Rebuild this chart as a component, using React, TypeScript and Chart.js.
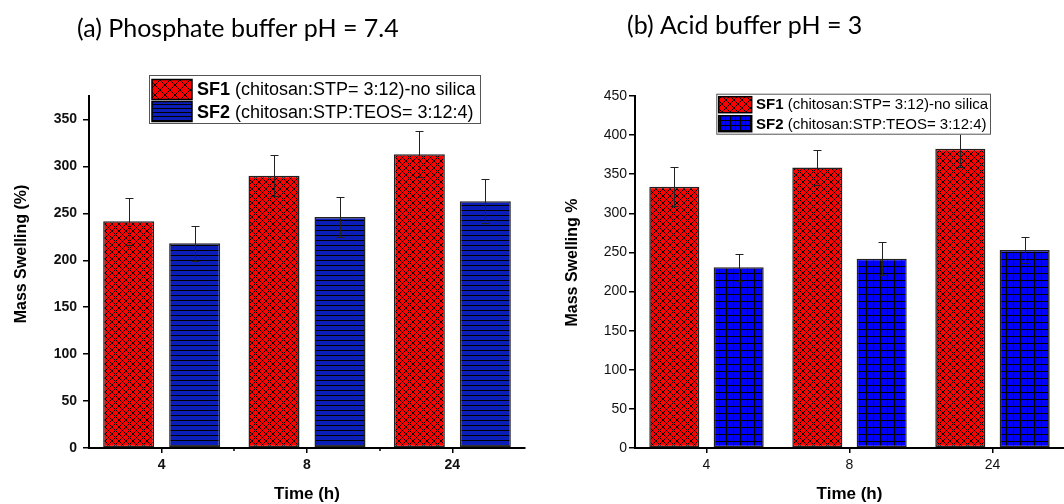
import React, { useEffect, useRef } from 'react';
import { Chart, registerables } from 'chart.js';

Chart.register(...registerables);

// ---------- data ----------
const timeLabels = ['4', '8', '24'];
const seriesNames = ['SF1', 'SF2'];
const seriesDetails = [' (chitosan:STP= 3:12)-no silica', ' (chitosan:STP:TEOS= 3:12:4)'];

const phosphateSF1 = [241.5, 290, 313];
const phosphateSF1Err = [25, 22, 24.5];
const phosphateSF2 = [218, 246, 263];
const phosphateSF2Err = [18.5, 21.5, 23.5];
const phosphateYTicks = [0, 50, 100, 150, 200, 250, 300, 350];
const phosphateYMax = 375;

const acidSF1 = [334, 358.5, 382.5];
const acidSF1Err = [25, 22.5, 23.5];
const acidSF2 = [231, 242, 253];
const acidSF2Err = [17.5, 21, 17];
const acidYTicks = [0, 50, 100, 150, 200, 250, 300, 350, 400, 450];
const acidYMax = 450;

const FONT = '"Liberation Sans", Arial, sans-serif';
const TITLE_FONT = 'Lato, "Open Sans", sans-serif';

type Panel = {
  key: string;
  left: number;
  width: number;
  title: string;
  titleX: number;
  titleY: number;
  yTitle: string;
  yTitleX: number;
  yTitleY: number;
  sf1: number[];
  sf1Err: number[];
  sf2: number[];
  sf2Err: number[];
  yTicks: number[];
  yMax: number;
  yWidth: number;
  padRight: number;
  tickBold: boolean;
  yTickPad: number;
  sf2Style: 'hlines' | 'grid';
  sf2Color: string;
  hatch: number;
  legendHatch: number;
  legendGrid: number;
  catPct: number;
  barPct: number;
  minorTicks: boolean;
  legend: { x: number; y: number; w: number; h: number; swX: number; swW: number; rows: number[]; swH: number; textX: number; baselines: number[]; size: number };
};

const panels: Panel[] = [
  {
    key: 'a', left: 0, width: 530,
    title: '(a) Phosphate buffer pH = 7.4', titleX: 77, titleY: 29,
    yTitle: 'Mass Swelling (%)', yTitleX: 22, yTitleY: 254,
    sf1: phosphateSF1, sf1Err: phosphateSF1Err, sf2: phosphateSF2, sf2Err: phosphateSF2Err,
    yTicks: phosphateYTicks, yMax: phosphateYMax, yWidth: 89, padRight: 5, tickBold: true, yTickPad: 6,
    sf2Style: 'hlines', sf2Color: '#0b1fb8', hatch: 7, legendHatch: 10, legendGrid: 4, catPct: 0.908, barPct: 0.773, minorTicks: true,
    legend: { x: 149, y: 75, w: 332, h: 49, swX: 152, swW: 40, rows: [79.5, 101.5], swH: 20, textX: 197, baselines: [95, 118.3], size: 18 },
  },
  {
    key: 'b', left: 530, width: 534,
    title: '(b) Acid buffer pH = 3', titleX: 97, titleY: 26,
    yTitle: 'Mass Swelling %', yTitleX: 43, yTitleY: 262.5,
    sf1: acidSF1, sf1Err: acidSF1Err, sf2: acidSF2, sf2Err: acidSF2Err,
    yTicks: acidYTicks, yMax: acidYMax, yWidth: 105, padRight: 0, tickBold: false, yTickPad: 2,
    sf2Style: 'grid', sf2Color: '#0000ff', hatch: 7, legendHatch: 8, legendGrid: 5, catPct: 0.9, barPct: 0.778, minorTicks: false,
    legend: { x: 186.3, y: 93.7, w: 274.7, h: 41, swX: 188.7, swW: 33, rows: [96.7, 115.7], swH: 16, textX: 226, baselines: [109.3, 129.3], size: 15 },
  },
];

function makePattern(ctx: CanvasRenderingContext2D, kind: string, color: string, size: number) {
  const c = document.createElement('canvas');
  const g = c.getContext('2d')!;
  if (kind === 'cross') {
    c.width = size; c.height = size;
    g.fillStyle = color; g.fillRect(0, 0, size, size);
    g.strokeStyle = '#000'; g.lineWidth = 1;
    g.beginPath();
    g.moveTo(-1, -1); g.lineTo(size + 1, size + 1);
    g.moveTo(-1, size + 1); g.lineTo(size + 1, -1);
    g.stroke();
  } else if (kind === 'hlines') {
    c.width = 8; c.height = size;
    g.fillStyle = color; g.fillRect(0, 0, 8, size);
    g.fillStyle = '#000'; g.fillRect(0, 0, 8, 1);
  } else {
    c.width = size; c.height = size;
    g.fillStyle = color; g.fillRect(0, 0, size, size);
    g.fillStyle = '#000'; g.fillRect(0, 0, size, 1); g.fillRect(0, 0, 1, size);
  }
  return ctx.createPattern(c, 'repeat')!;
}

function buildChart(canvas: HTMLCanvasElement, p: Panel) {
  const ctx = canvas.getContext('2d')!;
  const redPat = makePattern(ctx, 'cross', '#ff0000', p.hatch);
  const bluePat = makePattern(ctx, p.sf2Style, p.sf2Color, p.sf2Style === 'hlines' ? 5 : p.hatch);
  const legendPats = [
    makePattern(ctx, 'cross', '#ff0000', p.legendHatch),
    makePattern(ctx, p.sf2Style, p.sf2Color, p.legendGrid),
  ];
  const errs = [p.sf1Err, p.sf2Err];

  const plugin = {
    id: 'decor' + p.key,
    afterDatasetsDraw(chart: any) {
      const c = chart.ctx as CanvasRenderingContext2D;
      const ys = chart.scales.y;
      c.save();
      c.strokeStyle = '#222';
      c.lineWidth = 1;
      chart.data.datasets.forEach((ds: any, di: number) => {
        const meta = chart.getDatasetMeta(di);
        meta.data.forEach((el: any, i: number) => {
          const v = ds.data[i];
          const e = errs[di][i];
          const x = Math.round(el.x) + 0.5;
          const yt = Math.round(ys.getPixelForValue(v + e)) + 0.5;
          const yb = Math.round(ys.getPixelForValue(v - e)) + 0.5;
          c.beginPath();
          c.moveTo(x, yt); c.lineTo(x, yb);
          c.moveTo(x - 4, yt); c.lineTo(x + 4, yt);
          c.moveTo(x - 4, yb); c.lineTo(x + 4, yb);
          c.stroke();
        });
      });
      c.restore();
    },
    afterDraw(chart: any) {
      const c = chart.ctx as CanvasRenderingContext2D;
      const area = chart.chartArea;
      const xs = chart.scales.x;
      c.save();
      // minor ticks
      if (p.minorTicks) {
        c.strokeStyle = '#000';
        c.lineWidth = 1.5;
        for (let i = 0; i < timeLabels.length - 1; i++) {
          const mx = Math.round((xs.getPixelForValue(i) + xs.getPixelForValue(i + 1)) / 2);
          c.beginPath(); c.moveTo(mx, area.bottom); c.lineTo(mx, area.bottom + 3); c.stroke();
        }
      }
      // legend
      const L = p.legend;
      c.fillStyle = '#fff';
      c.fillRect(L.x, L.y, L.w, L.h);
      c.strokeStyle = '#555';
      c.lineWidth = 1;
      c.strokeRect(L.x + 0.5, L.y + 0.5, L.w - 1, L.h - 1);
      for (let r = 0; r < 2; r++) {
        c.fillStyle = legendPats[r];
        c.fillRect(L.swX, L.rows[r], L.swW, L.swH);
        c.strokeStyle = '#000';
        c.lineWidth = 1.5;
        c.strokeRect(L.swX, L.rows[r], L.swW, L.swH);
        c.fillStyle = '#000';
        c.textAlign = 'left';
        c.textBaseline = 'alphabetic';
        c.font = `bold ${L.size}px ${FONT}`;
        c.fillText(seriesNames[r], L.textX, L.baselines[r]);
        const w = c.measureText(seriesNames[r]).width;
        c.font = `${L.size}px ${FONT}`;
        c.fillText(seriesDetails[r], L.textX + w, L.baselines[r]);
      }
      // title
      c.fillStyle = '#000';
      c.font = `25px ${TITLE_FONT}`;
      c.textAlign = 'left';
      c.textBaseline = 'middle';
      c.fillText(p.title, p.titleX, p.titleY);
      // axis titles
      c.font = `bold 17px ${FONT}`;
      c.textAlign = 'center';
      c.fillText('Time (h)', (area.left + area.right) / 2, 494);
      c.save();
      c.translate(p.yTitleX, p.yTitleY);
      c.rotate(-Math.PI / 2);
      c.font = `bold 16px ${FONT}`;
      c.fillText(p.yTitle, 0, 0);
      c.restore();
      c.restore();
    },
  };

  return new Chart(canvas, {
    type: 'bar',
    data: {
      labels: timeLabels,
      datasets: [
        { label: seriesNames[0], data: p.sf1, backgroundColor: redPat as any, borderColor: '#222', borderWidth: 1.5, borderSkipped: false },
        { label: seriesNames[1], data: p.sf2, backgroundColor: bluePat as any, borderColor: '#222', borderWidth: 1.5, borderSkipped: false },
      ],
    },
    options: {
      animation: false,
      responsive: false,
      devicePixelRatio: 1,
      events: [],
      layout: { padding: { top: 96, right: p.padRight, left: 0, bottom: 0 } },
      datasets: { bar: { categoryPercentage: p.catPct, barPercentage: p.barPct } },
      plugins: { legend: { display: false }, tooltip: { enabled: false }, title: { display: false } },
      scales: {
        x: {
          type: 'category',
          offset: true,
          afterFit: (s: any) => { s.height = 56; },
          grid: { offset: false, drawOnChartArea: false, drawTicks: true, tickLength: 5, color: '#000', lineWidth: 1.5 },
          border: { display: true, color: '#000', width: 2 },
          ticks: { color: '#111', padding: 4, font: { family: FONT, size: 14, weight: p.tickBold ? 'bold' : 'normal' } },
        },
        y: {
          type: 'linear',
          min: 0,
          max: p.yMax,
          afterFit: (s: any) => { s.width = p.yWidth; },
          afterBuildTicks: (s: any) => { s.ticks = p.yTicks.map((v) => ({ value: v })); },
          grid: { drawOnChartArea: false, drawTicks: true, tickLength: 6, color: '#000', lineWidth: 1.5 },
          border: { display: true, color: '#000', width: 2 },
          ticks: { color: '#111', padding: p.yTickPad, font: { family: FONT, size: 14, weight: p.tickBold ? 'bold' : 'normal' } },
        },
      },
    },
    plugins: [plugin],
  } as any);
}

function PanelChart({ p }: { p: Panel }) {
  const ref = useRef<HTMLCanvasElement>(null);
  useEffect(() => {
    if (!ref.current) return;
    const ch = buildChart(ref.current, p);
    return () => ch.destroy();
  }, [p]);
  return (
    <canvas
      ref={ref}
      width={p.width}
      height={504}
      style={{ position: 'absolute', left: p.left, top: 0, width: p.width, height: 504 }}
    />
  );
}

export default function App() {
  return (
    <div style={{ position: 'fixed', left: 0, top: 0, width: 1064, height: 504, background: '#fff', overflow: 'hidden' }}>
      {panels.map((p) => (
        <PanelChart key={p.key} p={p} />
      ))}
    </div>
  );
}
